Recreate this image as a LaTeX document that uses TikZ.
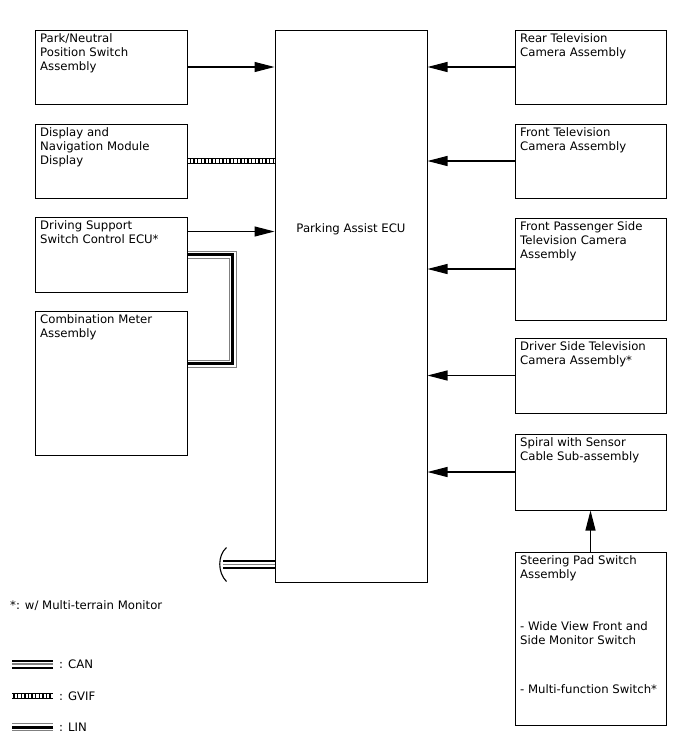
\documentclass[tikz,border=0pt]{standalone}
\usepackage{fontspec}
\setmainfont{DejaVu Sans}
\usetikzlibrary{positioning,arrows.meta,calc}

\begin{document}
\begin{tikzpicture}[x=1pt,y=-1pt,
  unit/.style={draw,line width=1pt,minimum width=152pt,inner sep=0pt},
  lbl/.style={align=left,inner xsep=5.5pt,inner ysep=3.5pt,font=\fontsize{11.7}{14}\selectfont},
  sig/.style={-{Triangle[length=20pt,width=10pt]},line width=1.1pt},
  can/.style={line width=9pt,draw=black,postaction={draw=white,line width=5pt},postaction={draw=gray,line width=1.2pt}},
  lin/.style={line width=8pt,draw=gray,postaction={draw=white,line width=6pt},postaction={draw=black,line width=3pt}},
  gvif/.style={line width=6pt,draw=black,postaction={draw=white,line width=3.4pt,dash pattern=on 2.2pt off 1.4pt}}]
\useasboundingbox (0,0) rectangle (688,755);
% left column
\node[unit,minimum height=74pt,label={[lbl,anchor=north west]north west:{Park/Neutral\\Position Switch\\Assembly}}] (pns) at (111,67) {};
\node[unit,minimum height=74pt,label={[lbl,anchor=north west]north west:{Display and\\Navigation Module\\Display}}] (dnm) at (111,161) {};
\node[unit,minimum height=75pt,label={[lbl,anchor=north west]north west:{Driving Support\\Switch Control ECU*}}] (dss) at (111,254.5) {};
\node[unit,minimum height=144pt,label={[lbl,anchor=north west]north west:{Combination Meter\\Assembly}}] (cma) at (111,383) {};
% ECU
\node[unit,minimum height=552pt,label={[lbl,anchor=north,yshift=-190pt]north:{Parking Assist ECU}}] (ecu) at (351,306) {};
% right column
\node[unit,minimum width=151pt,minimum height=74pt,label={[lbl,anchor=north west]north west:{Rear Television\\Camera Assembly}}] (rtc) at (590.5,67) {};
\node[unit,minimum width=151pt,minimum height=74pt,label={[lbl,anchor=north west]north west:{Front Television\\Camera Assembly}}] (ftc) at (590.5,161) {};
\node[unit,minimum width=151pt,minimum height=102pt,label={[lbl,anchor=north west]north west:{Front Passenger Side\\Television Camera\\Assembly}}] (fps) at (590.5,269) {};
\node[unit,minimum width=151pt,minimum height=75pt,label={[lbl,anchor=north west]north west:{Driver Side Television\\Camera Assembly*}}] (dst) at (590.5,375.5) {};
\node[unit,minimum width=151pt,minimum height=76pt,label={[lbl,anchor=north west]north west:{Spiral with Sensor\\Cable Sub-assembly}}] (scs) at (590.5,472) {};
\node[unit,minimum width=151pt,minimum height=173pt,label={[lbl,anchor=north west]north west:{Steering Pad Switch\\Assembly\\[38pt]- Wide View Front and\\Side Monitor Switch\\[35pt]- Multi-function Switch*}}] (spd) at (590.5,638.5) {};
% signals
\draw[sig] (pns.east) -- (pns.east -| ecu.west);
\draw[gvif] (dnm.east) -- (dnm.east -| ecu.west);
\draw[sig] ($(dss.north east)+(0,15)$) coordinate (dsa) -- (dsa -| ecu.west);
\coordinate (linb) at ($(cma.north east)+(0,53)$);
\draw[lin] (dss.east) -| ($(linb)+(45,0)$) -- (linb);
\draw[sig] (rtc.west) -- (rtc.west -| ecu.east);
\draw[sig] (ftc.west) -- (ftc.west -| ecu.east);
\draw[sig] (fps.west) -- (fps.west -| ecu.east);
\draw[sig] (dst.west) -- (dst.west -| ecu.east);
\draw[sig] (scs.west) -- (scs.west -| ecu.east);
\draw[sig] (spd.north) -- (scs.south);
% CAN bus stub
\draw[can] ($(ecu.south west)+(0,-18)$) -- ++(-52,0) coordinate (cancut);
\draw[line width=1.1pt] ($(cancut)+(4,-17)$) .. controls ($(cancut)+(-5,-9)$) and ($(cancut)+(-5,8)$) .. ($(cancut)+(4,17)$);
% legend
\node[lbl,anchor=west,inner xsep=0pt] (note) at (10,606) {*: w/ Multi-terrain Monitor};
\node[lbl,anchor=west,inner xsep=0pt] (lgcan) at (59,664) {: CAN};
\node[lbl,anchor=west,inner xsep=0pt] (lggvif) at (59,696) {: GVIF};
\node[lbl,anchor=west,inner xsep=0pt] (lglin) at (59,727) {: LIN};
\draw[can] ($(lgcan.west)+(-6,0)$) -- ++(-41,0);
\draw[gvif] ($(lggvif.west)+(-6,0)$) -- ++(-41,0);
\draw[lin] ($(lglin.west)+(-6,0)$) -- ++(-41,0);
\end{tikzpicture}
\end{document}
